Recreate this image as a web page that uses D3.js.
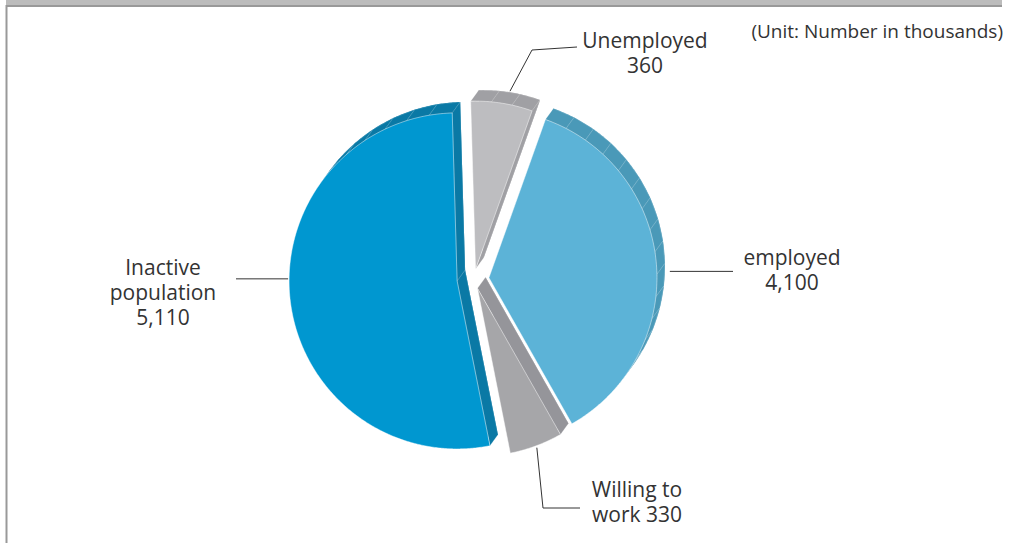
<!DOCTYPE html>
<html>
<head>
<meta charset="utf-8">
<script src="https://cdn.jsdelivr.net/npm/d3@7"></script>
<style>
  body { margin: 0; background: #fff; }
  svg { display: block; }
  text { font-family: "Open Sans", "Noto Sans", sans-serif; fill: #333; }
</style>
</head>
<body>
<script>
// datos del grafico (miles de personas)
var categories = ["Unemployed", "employed", "Willing to work", "Inactive population"];
var values = [360, 4100, 330, 5110];
var labelLines = [["Unemployed", "360"], ["employed", "4,100"], ["Willing to", "work 330"], ["Inactive", "population", "5,110"]];
var unitText = "(Unit: Number in thousands)";

// colores: cara y lateral
var faceColors = ["#bdbdc0", "#5cb3d7", "#a6a6a9", "#0097d0"];
var sideColors = ["#a0a0a4", "#4a99b8", "#95959a", "#0a79a5"];
var explode = [10, 15, 10, 17];

var W = 1009, H = 543;
var cx = 474, cy = 279, R = 168;
var off = [8, -11];   // desplazamiento de la cara trasera (efecto 3D)
var tilt = 0.6;       // perspectiva: abre los sectores de arriba y abajo
var deg = Math.PI / 180;

var svg = d3.select("body").append("svg")
  .attr("width", W)
  .attr("height", H);

// marco superior e izquierdo
svg.append("rect").attr("x", 6).attr("y", 0).attr("width", 996).attr("height", 5).attr("fill", "#bcbcbc");
svg.append("path")
  .attr("d", "M6.5,543 L6.5,6 L1002,6")
  .attr("fill", "none").attr("stroke", "#999").attr("stroke-width", 2);

var pie = d3.pie().sort(null).value(function(d) { return d; })
  .startAngle(-1 * deg).endAngle(359 * deg);
var arcs = pie(values);

var poly = d3.line().curve(d3.curveLinearClosed);

function warp(t) {
  var p = Math.atan2(Math.sin(t), tilt * Math.cos(t));
  return p + 2 * Math.PI * Math.round((t - p) / (2 * Math.PI));
}
function dir(a) { return [Math.sin(a), -Math.cos(a)]; }
function pt(c, a, r) { var u = dir(a); return [c[0] + r * u[0], c[1] + r * u[1]]; }
function shift(p) { return [p[0] + off[0], p[1] + off[1]]; }
function faces(n) { return n[0] * off[0] + n[1] * off[1] > 0; }

arcs.forEach(function(d, i) {
  d.s = warp(d.startAngle);
  d.e = warp(d.endAngle);
  d.mid = (d.s + d.e) / 2;
  var u = dir(d.mid);
  d.c = [cx + explode[i] * u[0], cy + explode[i] * u[1]];
});

function sector(d, c) {
  var pts = [c];
  var n = Math.max(2, Math.ceil((d.e - d.s) / (0.5 * deg)));
  for (var k = 0; k <= n; k++) pts.push(pt(c, d.s + (d.e - d.s) * k / n, R));
  return pts;
}

var solids = svg.append("g");
var tops = svg.append("g");

arcs.forEach(function(d, i) {
  var g = solids.append("g");
  // cara trasera
  g.append("path")
    .attr("d", poly(sector(d, shift(d.c))))
    .attr("fill", sideColors[i]);

  var quads = [];
  var n = Math.max(1, Math.ceil((d.e - d.s) / (8 * deg)));
  var step = (d.e - d.s) / n;
  for (var k = 0; k < n; k++) {
    var a0 = d.s + k * step, a1 = a0 + step;
    var p0 = pt(d.c, a0, R), p1 = pt(d.c, a1, R);
    if (faces(dir((a0 + a1) / 2))) quads.push([p0, p1, shift(p1), shift(p0)]);
  }
  // lados rectos
  if (faces([-Math.cos(d.s), -Math.sin(d.s)])) {
    var q = pt(d.c, d.s, R);
    quads.push([d.c, q, shift(q), shift(d.c)]);
  }
  if (faces([Math.cos(d.e), Math.sin(d.e)])) {
    var q2 = pt(d.c, d.e, R);
    quads.push([d.c, q2, shift(q2), shift(d.c)]);
  }
  g.selectAll("path.side").data(quads).enter().append("path")
    .attr("class", "side")
    .attr("d", poly)
    .attr("fill", sideColors[i])
    .attr("stroke", "rgba(255,255,255,0.28)")
    .attr("stroke-width", 0.6);

  tops.append("path")
    .attr("d", poly(sector(d, d.c)))
    .attr("fill", faceColors[i])
    .attr("stroke", "rgba(255,255,255,0.55)")
    .attr("stroke-width", 0.8);
});

// lineas guia y etiquetas
var labelPos = [
  { x: 645, y: 48, a: arcs[0].mid, gap: 1, back: true, via: [[532, 50], [577, 47]] },
  { x: 792, y: 265, a: 88 * deg, gap: 13, back: false, via: [[733, null]] },
  { x: 637, y: 497, a: arcs[2].mid, gap: 2, back: false, via: [[543, 508], [580, 508]] },
  { x: 163, y: 275, a: 270.7 * deg, gap: 1, back: false, via: [[236, null]] }
];

var lab = svg.append("g");
labelPos.forEach(function(l, i) {
  var c = l.back ? shift(arcs[i].c) : arcs[i].c;
  var p = pt(c, l.a, R + l.gap);
  var pts = [p];
  l.via.forEach(function(v) { pts.push([v[0], v[1] === null ? p[1] : v[1]]); });
  lab.append("path")
    .attr("d", d3.line()(pts))
    .attr("fill", "none")
    .attr("stroke", "#333")
    .attr("stroke-width", 1);

  labelLines[i].forEach(function(s, j) {
    lab.append("text")
      .attr("x", l.x).attr("y", l.y + j * 25)
      .attr("text-anchor", "middle")
      .style("font-size", "21px")
      .text(s);
  });
});

svg.append("text")
  .attr("x", 1003).attr("y", 38)
  .attr("text-anchor", "end")
  .style("font-size", "19px")
  .text(unitText);
</script>
</body>
</html>
